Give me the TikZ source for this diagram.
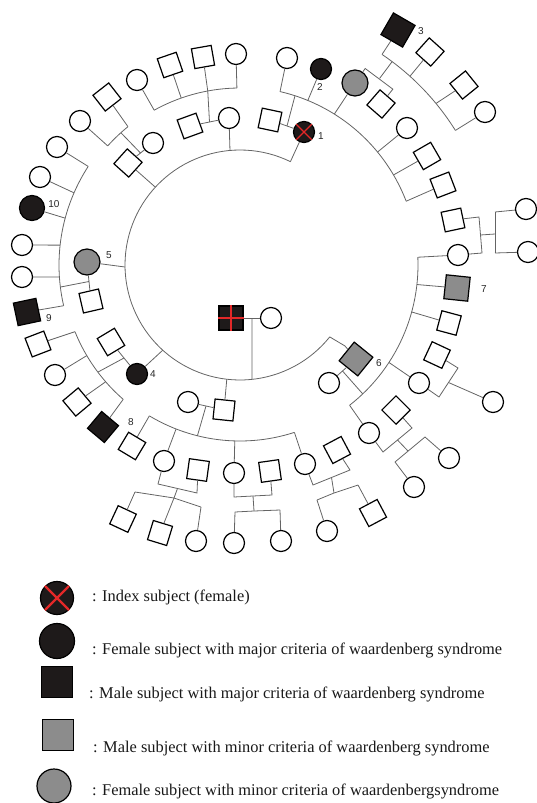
\documentclass[tikz,border=0pt]{standalone}
\usepackage{fontspec}
\setmainfont{Liberation Serif}
\newfontfamily\lblfont{Liberation Sans}
\usetikzlibrary{calc}
\definecolor{lncol}{RGB}{100,100,100}
\definecolor{affcol}{RGB}{30,26,26}
\definecolor{mnrcol}{RGB}{140,140,140}
\definecolor{redx}{RGB}{228,40,40}
\def\RingParse#1,#2\relax{\pgfmathsetmacro\RingX{240+(#2)*cos(#1)}\pgfmathsetmacro\RingY{265-(#2)*sin(#1)}\pgfpointxy{\RingX}{\RingY}}
\tikzdeclarecoordinatesystem{ring}{\RingParse#1\relax}
\begin{document}
\begin{tikzpicture}[x=1pt,y=-1pt,
  ln/.style={draw=lncol, line width=0.8pt},
  fem/.style={circle, draw=black, line width=1.2pt, minimum size=21pt, inner sep=0pt, fill=white},
  mal/.style={rectangle, draw=black, line width=1.2pt, minimum size=20pt, inner sep=0pt, fill=white},
  aff/.style={fill=affcol},
  mnr/.style={fill=mnrcol},
  lbl/.style={font=\lblfont\fontsize{10}{11}\selectfont, inner sep=0pt, text=black!85},
  legtxt/.style={font=\fontsize{16.4}{18}\selectfont, anchor=west, inner sep=0pt, text=black!90}
]
\useasboundingbox (0,0) rectangle (537,803);

% ---------- arcs ----------
\draw[ln] plot[domain=64:321.3,samples=90] ({240+115*cos(\x)},{265-115*sin(\x)});
\draw[ln] plot[domain=91:119,samples=20] ({240+177*cos(\x)},{265-177*sin(\x)});
\draw[ln] plot[domain=129:138,samples=10] ({240+178*cos(\x)},{265-178*sin(\x)});
\draw[ln] plot[domain=147:193,samples=30] ({240+181*cos(\x)},{265-181*sin(\x)});
\draw[ln] plot[domain=202:229,samples=20] ({240+178*cos(\x)},{265-178*sin(\x)});
\draw[ln] plot[domain=239:288,samples=30] ({240+176*cos(\x)},{265-176*sin(\x)});
\draw[ln] plot[domain=21:77,samples=30] ({240+178*cos(\x)},{265-178*sin(\x)});
\draw[ln] plot[domain=-52:2.5,samples=30] ({240+178*cos(\x)},{265-178*sin(\x)});
\draw[ln] plot[domain=32:56,samples=20] ({240+254*cos(\x)},{265-254*sin(\x)});

% ---------- Generation I ----------
\node[mal,aff,minimum size=24pt] (P1) at (231,318) {};
\node[fem] (P2) at (271,318) {};

% ---------- Generation II ----------
\node[mal,rotate=-6] (A) at (224,410) {};
\node[fem] (As) at (188,402) {};
\node[fem,aff] (B) at (137,374) {};
\node[mal,rotate=31] (Bs) at (111,342) {};
\node[fem,mnr,minimum size=26pt] (C) at (87,262) {};
\node[mal,rotate=13] (Cs) at (91,301) {};
\node[mal,rotate=48] (D) at (128,163) {};
\node[fem] (Ds) at (153,143) {};
\node[fem] (E) at (229,118) {};
\node[mal,rotate=20] (Es) at (190,126) {};
\node[fem,aff] (F) at (304,132) {};
\node[mal,rotate=-12] (Fs) at (270,120) {};
\node[mal,mnr,rotate=51,minimum size=24pt] (G) at (356,359) {};
\node[fem] (Gs) at (329,383) {};

% ---------- Generation III ----------
\node[fem] (e1) at (137,80) {};
\node[mal,rotate=19] (e2) at (170,65) {};
\node[mal,rotate=10] (e3) at (203,57) {};
\node[fem] (e4) at (236,54) {};
\node[mal,rotate=38] (d1) at (107,97) {};
\node[fem] (d2) at (80,121) {};
\node[fem] (c1) at (57,147) {};
\node[fem] (c2) at (40,177) {};
\node[fem,aff,minimum size=25pt] (c3) at (32,208) {};
\node[fem] (c4) at (22,245) {};
\node[fem] (c5) at (22,277) {};
\node[mal,aff,rotate=12,minimum size=23pt] (c6) at (27,312) {};
\node[mal,rotate=21] (b1) at (38,344) {};
\node[fem] (b2) at (55,375) {};
\node[mal,rotate=40] (b3) at (77,402) {};
\node[mal,aff,rotate=50,minimum size=22pt] (b4) at (103,427) {};
\node[mal,rotate=-31] (a1) at (132,446) {};
\node[fem] (a2) at (164,461) {};
\node[fem] (a3) at (234,473) {};
\node[fem] (a4) at (305,464) {};
\node[mal,rotate=-8] (a2s) at (198,470) {};
\node[mal,rotate=8] (a3s) at (270,471) {};
\node[mal,rotate=28] (a4s) at (337,450) {};
\node[fem] (f1) at (287,58) {};
\node[fem,aff] (f2) at (321,69) {};
\node[fem,mnr,minimum size=26pt] (f3) at (355,83) {};
\node[fem] (f4) at (407,128) {};
\node[mal,rotate=30] (f5) at (427,156) {};
\node[mal,rotate=21] (f6) at (443,185) {};
\node[mal,rotate=49] (f3s) at (381,104) {};
\node[fem] (g1) at (458,255) {};
\node[mal,mnr,rotate=-6,minimum size=24pt] (g2) at (457,288) {};
\node[mal,rotate=-15] (g3) at (449,323) {};
\node[fem] (g4) at (419,383) {};
\node[fem] (g5) at (369,433) {};
\node[mal,rotate=12] (g1s) at (453,220) {};
\node[mal,rotate=-25] (g4s) at (437,355) {};
\node[mal,rotate=45] (g5s) at (396,410) {};

% ---------- Generation IV ----------
\node[mal,rotate=-30,aff,minimum size=25pt] (f3k1) at (398,30) {};
\node[mal,rotate=48] (f3k2) at (430,52) {};
\node[mal,rotate=39] (f3k3) at (464,85) {};
\node[fem] (f3k4) at (485,112) {};
\node[fem] (g1k1) at (526,209) {};
\node[fem] (g1k2) at (528,252) {};
\node[fem] (g4k) at (493,402) {};
\node[fem] (g5k1) at (414,487) {};
\node[fem] (g5k2) at (449,458) {};
\node[mal,rotate=-25] (a2k1) at (123,519) {};
\node[mal,rotate=-17] (a2k2) at (160,533) {};
\node[fem] (a2k3) at (196,541) {};
\node[fem] (a3k1) at (234,543) {};
\node[fem] (a3k2) at (281,541) {};
\node[fem] (a4k1) at (327,531) {};
\node[mal,rotate=28] (a4k2) at (373,513) {};

% red marks
\draw[redx, line width=1.2pt] (P1.north) -- (P1.south) (P1.west) -- (P1.east);
\draw[redx, line width=1.4pt] (F.north west) -- (F.south east) (F.north east) -- (F.south west);

% labels
\node[lbl] (l1) at (321,136) {1};
\node[lbl] (l2) at (320,87) {2};
\node[lbl] (l3) at (421,31) {3};
\node[lbl] (l4) at (153,374) {4};
\node[lbl] (l5) at (109,255) {5};
\node[lbl] (l6) at (379,363) {6};
\node[lbl] (l7) at (484,289) {7};
\node[lbl] (l8) at (131,422) {8};
\node[lbl] (l9) at (49,318) {9};
\node[lbl] (l10) at (54,204) {10};

% ---------- junction coordinates ----------
\coordinate (iF) at (ring cs:64,115);
\coordinate (iE) at (ring cs:95,115);
\coordinate (iD) at (ring cs:137.4,115);
\coordinate (iC) at (ring cs:181,115);
\coordinate (iB) at (ring cs:227.8,115);
\coordinate (iA) at (ring cs:263.4,115);
\coordinate (i0) at (ring cs:276,115);
\coordinate (iG) at (ring cs:321.3,115);
\coordinate (kG) at (345,346);
\coordinate (m0) at (252,318);

\coordinate (je1) at (ring cs:119,177);
\coordinate (je2) at (ring cs:109.4,177);
\coordinate (je3) at (ring cs:100.5,177);
\coordinate (je4) at (ring cs:91,177);
\coordinate (jd1) at (ring cs:129,178);
\coordinate (jd2) at (ring cs:138,178);
\coordinate (jD) at (ring cs:132,178);
\coordinate (jc1) at (ring cs:147,181);
\coordinate (jc2) at (ring cs:156.5,181);
\coordinate (jc3) at (ring cs:165,181);
\coordinate (jc4) at (ring cs:173.7,181);
\coordinate (jc5) at (ring cs:183.8,181);
\coordinate (jc6) at (ring cs:193,181);
\coordinate (jC) at (ring cs:187,181);
\coordinate (jb1) at (ring cs:202,178);
\coordinate (jb2) at (ring cs:210.6,178);
\coordinate (jb3) at (ring cs:221,178);
\coordinate (jb4) at (ring cs:229,178);
\coordinate (jB) at (ring cs:217,178);
\coordinate (ja1) at (ring cs:239,176);
\coordinate (ja2) at (ring cs:248.7,176);
\coordinate (ja3) at (ring cs:268.3,176);
\coordinate (ja4) at (ring cs:288,176);
\coordinate (jA) at (ring cs:256,176);
\coordinate (jf1) at (ring cs:77,178);
\coordinate (jf2) at (ring cs:67.6,178);
\coordinate (jf3) at (ring cs:58,178);
\coordinate (jf4) at (ring cs:39.4,178);
\coordinate (jf5) at (ring cs:30.4,178);
\coordinate (jf6) at (ring cs:21,178);
\coordinate (jF) at (ring cs:72,178);
\coordinate (jg1) at (ring cs:2.5,178);
\coordinate (jg2) at (ring cs:-6.3,178);
\coordinate (jg3) at (ring cs:-15.3,178);
\coordinate (jg4) at (ring cs:-33.2,178);
\coordinate (jg5) at (ring cs:-52,178);
\coordinate (jG) at (ring cs:-46.4,178);
\coordinate (bf1) at (ring cs:57.5,233);
\coordinate (bf2) at (ring cs:49,233);
\coordinate (bfm) at (ring cs:53.2,233);
\coordinate (jfm) at (ring cs:53.2,254);
\coordinate (jk1) at (ring cs:56,254);
\coordinate (jk2) at (ring cs:48,254);
\coordinate (jk3) at (ring cs:39.5,254);
\coordinate (jk4) at (ring cs:32,254);

% ---------- connectors: generation I/II ----------
\draw[ln] (P1) -- (P2);
\draw[ln] (m0) -- (i0);
\draw[ln] (iA) -- (A);
\draw[ln] (iB) -- (B);
\draw[ln] (iC) -- (C);
\draw[ln] (iD) -- (D);
\draw[ln] (iE) -- (E);
\draw[ln] (iF) -- (F);
\draw[ln] (iG) -- (kG) -- (G);
\draw[ln] (A) -- (As);
\draw[ln] (B) -- (Bs);
\draw[ln] (C) -- (Cs);
\draw[ln] (D) -- (Ds);
\draw[ln] (E) -- (Es);
\draw[ln] (F) -- (Fs);
\draw[ln] (G) -- (Gs);
\draw[ln] ($(A)!0.5!(As)$) -- (jA);
\draw[ln] ($(B)!0.5!(Bs)$) -- (jB);
\draw[ln] ($(C)!0.5!(Cs)$) -- (jC);
\draw[ln] ($(D)!0.5!(Ds)$) -- (jD);
\draw[ln] ($(E)!0.5!(Es)$) -- (je3);
\draw[ln] ($(F)!0.5!(Fs)$) -- (jF);
\draw[ln] ($(G)!0.5!(Gs)$) -- (jG);

% ---------- connectors: generation III ----------
\draw[ln] (e1) -- (je1);
\draw[ln] (e2) -- (je2);
\draw[ln] (e3) -- (je3);
\draw[ln] (e4) -- (je4);
\draw[ln] (d1) -- (jd1);
\draw[ln] (d2) -- (jd2);
\draw[ln] (c1) -- (jc1);
\draw[ln] (c2) -- (jc2);
\draw[ln] (c3) -- (jc3);
\draw[ln] (c4) -- (jc4);
\draw[ln] (c5) -- (jc5);
\draw[ln] (c6) -- (jc6);
\draw[ln] (b1) -- (jb1);
\draw[ln] (b2) -- (jb2);
\draw[ln] (b3) -- (jb3);
\draw[ln] (b4) -- (jb4);
\draw[ln] (a1) -- (ja1);
\draw[ln] (a2) -- (ja2);
\draw[ln] (a3) -- (ja3);
\draw[ln] (a4) -- (ja4);
\draw[ln] (f1) -- (jf1);
\draw[ln] (f2) -- (jf2);
\draw[ln] (f3) -- (jf3);
\draw[ln] (f4) -- (jf4);
\draw[ln] (f5) -- (jf5);
\draw[ln] (f6) -- (jf6);
\draw[ln] (g1) -- (jg1);
\draw[ln] (g2) -- (jg2);
\draw[ln] (g3) -- (jg3);
\draw[ln] (g4) -- (jg4);
\draw[ln] (g5) -- (jg5);

% ---------- connectors: generation IV ----------
\draw[ln] (f3) -- (bf1) -- (bf2) -- (f3s);
\draw[ln] (bfm) -- (jfm);
\draw[ln] (f3k1) -- (jk1);
\draw[ln] (f3k2) -- (jk2);
\draw[ln] (f3k3) -- (jk3);
\draw[ln] (f3k4) -- (jk4);

\coordinate (g1b1) at (479,217);
\coordinate (g1b2) at (482,253);
\coordinate (g1m) at (480.5,235);
\coordinate (g1v1) at (495,212);
\coordinate (g1v2) at (495,253);
\coordinate (g1v) at (495,234);
\draw[ln] (g1s) -- (g1b1) -- (g1b2) -- (g1);
\draw[ln] (g1m) -- (g1v);
\draw[ln] (g1v1) -- (g1v2);
\draw[ln] (g1v1) -- (g1k1);
\draw[ln] (g1v2) -- (g1k2);

\coordinate (g4b1) at (439,397);
\coordinate (g4b2) at (458,368);
\coordinate (g4m) at (448.5,382.5);
\draw[ln] (g4) -- (g4b1) -- (g4b2) -- (g4s);
\draw[ln] (g4m) -- (g4k);

\coordinate (g5b1) at (383,452);
\coordinate (g5b2) at (412,428);
\coordinate (g5m) at (397.5,440);
\coordinate (g5j) at (408,451);
\coordinate (g5t1) at (395,462);
\coordinate (g5t2) at (425,437);
\draw[ln] (g5) -- (g5b1) -- (g5b2) -- (g5s);
\draw[ln] (g5m) -- (g5j);
\draw[ln] (g5t1) -- (g5t2);
\draw[ln] (g5t1) -- (g5k1);
\draw[ln] (g5t2) -- (g5k2);

\coordinate (a2b1) at (158,484);
\coordinate (a2b2) at (197,493);
\coordinate (a2m) at (177.5,488.5);
\coordinate (a2j) at (174,498);
\coordinate (a2t1) at (135,492);
\coordinate (a2t3) at (201,507);
\draw[ln] (a2) -- (a2b1) -- (a2b2) -- (a2s);
\draw[ln] (a2m) -- (a2j);
\draw[ln] (a2t1) -- (a2j) -- (a2t3);
\draw[ln] (a2t1) -- (a2k1);
\draw[ln] (a2j) -- (a2k2);
\draw[ln] (a2t3) -- (a2k3);

\coordinate (a3b1) at (234,497);
\coordinate (a3b2) at (272,495);
\coordinate (a3m) at (253,496);
\coordinate (a3j) at (254,511);
\coordinate (a3t1) at (235,512);
\coordinate (a3t2) at (280,510);
\draw[ln] (a3) -- (a3b1) -- (a3b2) -- (a3s);
\draw[ln] (a3m) -- (a3j);
\draw[ln] (a3t1) -- (a3j) -- (a3t2);
\draw[ln] (a3t1) -- (a3k1);
\draw[ln] (a3t2) -- (a3k2);

\coordinate (a4b1) at (313,485);
\coordinate (a4b2) at (350,470);
\coordinate (a4m) at (331.5,477.5);
\coordinate (a4j) at (334,493);
\coordinate (a4t1) at (317,500);
\coordinate (a4t2) at (358,485);
\draw[ln] (a4) -- (a4b1) -- (a4b2) -- (a4s);
\draw[ln] (a4m) -- (a4j);
\draw[ln] (a4t1) -- (a4j) -- (a4t2);
\draw[ln] (a4t1) -- (a4k1);
\draw[ln] (a4t2) -- (a4k2);

% ---------- legend ----------
\node[fem,aff,minimum size=33pt] (L1) at (57,598) {};
\draw[redx, line width=2.2pt] (L1.north west) -- (L1.south east) (L1.north east) -- (L1.south west);
\node[legtxt] (T1) at (92,597) {: Index subject (female)};
\node[fem,aff,minimum size=35pt] (L2) at (57,641) {};
\node[legtxt] (T2) at (92,650) {: Female subject with major criteria of waardenberg syndrome};
\node[mal,aff,minimum size=31pt] (L3) at (57,682) {};
\node[legtxt] (T3) at (89,694) {: Male subject with major criteria of waardenberg syndrome};
\node[mal,mnr,minimum size=31pt] (L4) at (58,735) {};
\node[legtxt] (T4) at (93,748) {: Male subject with minor criteria of waardenberg syndrome};
\node[fem,mnr,minimum size=34pt] (L5) at (54,786) {};
\node[legtxt] (T5) at (92,791) {: Female subject with minor criteria of waardenbergsyndrome};
\end{tikzpicture}
\end{document}
